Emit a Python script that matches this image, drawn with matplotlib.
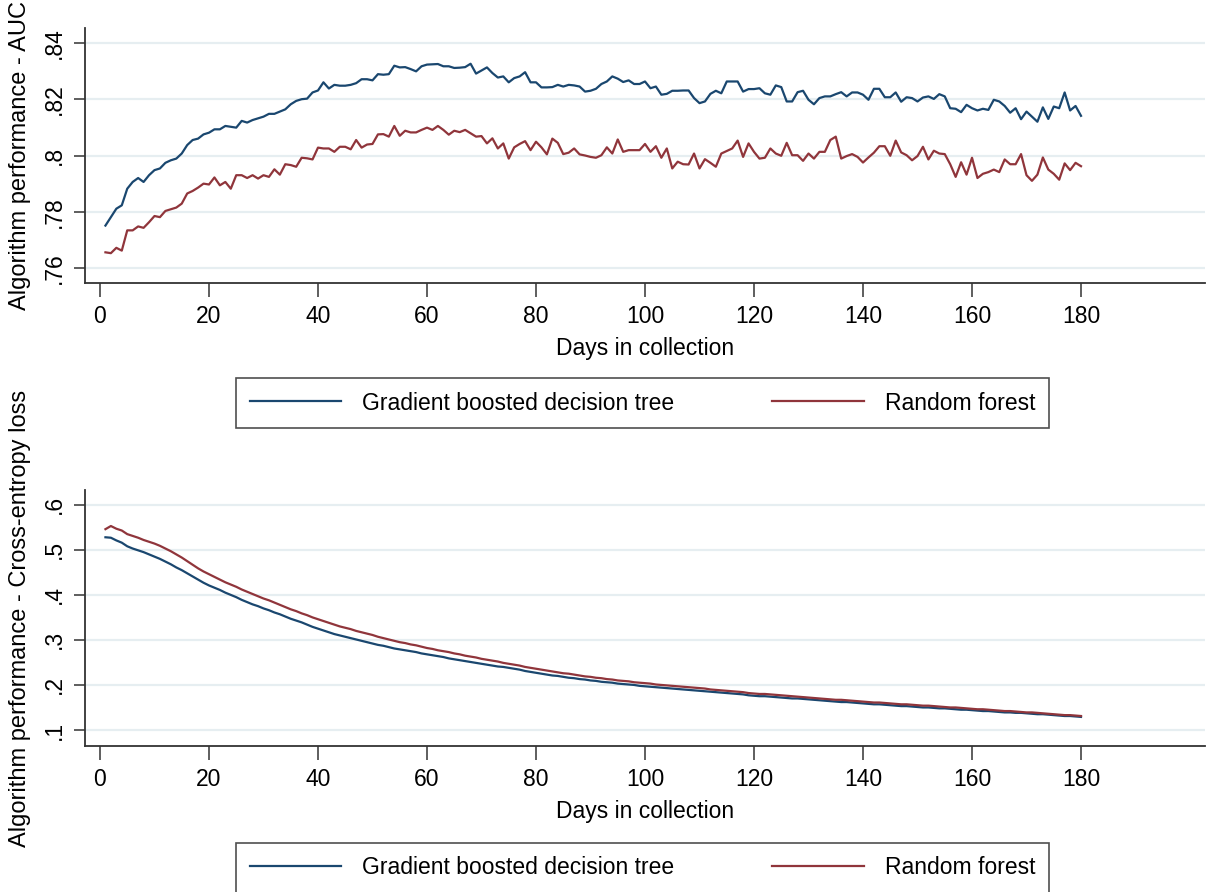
import matplotlib.pyplot as plt
import matplotlib.ticker as mticker
import numpy as np

plt.rcParams['font.family'] = ['Liberation Sans', 'DejaVu Sans']

days = list(range(1, 181))

# AUC, gradient boosted decision tree
auc_gbdt = [
    .7751, .7781, .7811, .7823, .7882, .7906, .7920, .7906, .7930, .7948,
    .7954, .7974, .7983, .7989, .8007, .8037, .8055, .8060, .8075, .8081,
    .8093, .8093, .8105, .8102, .8099, .8123, .8117, .8126, .8132, .8138,
    .8148, .8148, .8156, .8164, .8182, .8194, .8200, .8202, .8224, .8231,
    .8260, .8238, .8251, .8248, .8248, .8251, .8257, .8271, .8271, .8267,
    .8289, .8287, .8289, .8319, .8313, .8314, .8307, .8299, .8317, .8323,
    .8324, .8325, .8317, .8317, .8311, .8312, .8314, .8326, .8291, .8302,
    .8313, .8293, .8277, .8281, .8260, .8275, .8281, .8296, .8260, .8260,
    .8242, .8242, .8243, .8251, .8245, .8251, .8249, .8245, .8227, .8230,
    .8237, .8254, .8263, .8281, .8273, .8261, .8267, .8254, .8254, .8263,
    .8239, .8245, .8216, .8219, .8230, .8230, .8231, .8231, .8204, .8186,
    .8192, .8219, .8230, .8221, .8263, .8263, .8263, .8227, .8236, .8236,
    .8239, .8221, .8216, .8249, .8243, .8192, .8192, .8225, .8230, .8198,
    .8182, .8204, .8210, .8210, .8218, .8225, .8210, .8224, .8224, .8216,
    .8198, .8237, .8237, .8207, .8207, .8224, .8191, .8207, .8204, .8192,
    .8206, .8210, .8201, .8218, .8210, .8168, .8166, .8154, .8180, .8168,
    .8160, .8166, .8162, .8198, .8192, .8176, .8152, .8168, .8129, .8156,
    .8138, .8120, .8171, .8130, .8174, .8168, .8224, .8160, .8176, .8141,
]

# AUC, random forest
auc_rf = [
    .7656, .7653, .7672, .7662, .7734, .7734, .7748, .7743, .7763, .7785,
    .7781, .7803, .7809, .7815, .7829, .7865, .7874, .7886, .7900, .7897,
    .7922, .7894, .7906, .7882, .7930, .7930, .7920, .7930, .7918, .7930,
    .7924, .7951, .7932, .7969, .7966, .7960, .7992, .7990, .7986, .8028,
    .8025, .8025, .8013, .8031, .8031, .8022, .8055, .8028, .8039, .8041,
    .8075, .8076, .8067, .8105, .8070, .8088, .8082, .8082, .8091, .8099,
    .8091, .8105, .8091, .8074, .8088, .8083, .8091, .8079, .8067, .8069,
    .8043, .8061, .8025, .8043, .7989, .8029, .8041, .8051, .8019, .8049,
    .8029, .8004, .8060, .8045, .8005, .8010, .8025, .8004, .8000, .7995,
    .7992, .8001, .8029, .8007, .8057, .8013, .8019, .8019, .8019, .8041,
    .8013, .8033, .7992, .8025, .7954, .7978, .7969, .7968, .8007, .7954,
    .7987, .7974, .7960, .8007, .8016, .8025, .8053, .7995, .8043, .8013,
    .7989, .7992, .8025, .8007, .7999, .8045, .8001, .8001, .7981, .8007,
    .7989, .8013, .8013, .8055, .8067, .7989, .7998, .8005, .7995, .7975,
    .7993, .8010, .8033, .8033, .7999, .8053, .8011, .8001, .7983, .7998,
    .8031, .7986, .8017, .8007, .8005, .7969, .7924, .7976, .7932, .7992,
    .7920, .7935, .7941, .7950, .7941, .7986, .7969, .7969, .8005, .7930,
    .7910, .7932, .7993, .7950, .7935, .7914, .7972, .7948, .7974, .7962,
]

# Cross-entropy loss, gradient boosted decision tree
ce_gbdt = [
    .528, .527, .521, .516, .508, .503, .499, .495, .490, .485,
    .480, .474, .468, .461, .455, .448, .441, .434, .427, .421,
    .416, .411, .405, .400, .395, .389, .384, .379, .375, .370,
    .366, .361, .357, .352, .347, .343, .339, .334, .329, .325,
    .321, .317, .313, .310, .307, .304, .301, .298, .295, .292,
    .289, .287, .284, .281, .279, .277, .275, .273, .270, .268,
    .266, .264, .262, .259, .257, .255, .253, .251, .249, .247,
    .245, .243, .241, .240, .238, .236, .234, .231, .229, .227,
    .225, .223, .221, .220, .218, .216, .215, .213, .212, .210,
    .209, .207, .206, .205, .203, .202, .201, .200, .198, .197,
    .196, .195, .194, .193, .192, .191, .190, .189, .188, .187,
    .186, .185, .184, .183, .182, .181, .180, .179, .177, .176,
    .175, .175, .174, .173, .172, .171, .170, .170, .169, .168,
    .167, .166, .165, .164, .163, .162, .162, .161, .160, .159,
    .158, .157, .157, .156, .155, .154, .153, .153, .152, .151,
    .150, .150, .149, .148, .148, .147, .146, .145, .145, .144,
    .143, .142, .142, .141, .140, .139, .139, .138, .138, .137,
    .136, .135, .135, .134, .133, .132, .131, .131, .130, .129,
]

# Cross-entropy loss, random forest
ce_rf = [
    .546, .553, .547, .543, .535, .531, .527, .522, .518, .514,
    .509, .503, .497, .490, .483, .475, .467, .459, .452, .446,
    .440, .434, .428, .423, .418, .412, .407, .402, .397, .392,
    .388, .383, .378, .373, .368, .364, .359, .355, .350, .346,
    .342, .338, .334, .330, .327, .324, .320, .317, .314, .311,
    .307, .304, .301, .298, .295, .293, .290, .288, .285, .282,
    .280, .277, .275, .273, .270, .268, .265, .263, .261, .258,
    .256, .254, .252, .249, .247, .245, .243, .240, .238, .236,
    .234, .232, .230, .228, .226, .225, .223, .221, .219, .218,
    .216, .215, .213, .212, .210, .209, .208, .206, .205, .204,
    .203, .201, .200, .199, .198, .197, .196, .195, .194, .193,
    .192, .190, .189, .188, .187, .186, .185, .184, .182, .181,
    .180, .180, .179, .178, .177, .176, .175, .174, .173, .172,
    .171, .170, .169, .168, .167, .167, .166, .165, .164, .163,
    .162, .161, .161, .160, .159, .158, .157, .157, .156, .155,
    .154, .154, .153, .152, .151, .150, .150, .149, .148, .147,
    .146, .146, .145, .144, .143, .142, .142, .141, .140, .139,
    .139, .138, .137, .136, .135, .134, .133, .133, .132, .131,
]

series_names = ['Gradient boosted decision tree', 'Random forest']
colors = ['#1a476f', '#90353b']
auc_ticks = [.76, .78, .8, .82, .84]
ce_ticks = [.1, .2, .3, .4, .5, .6]
x_ticks = list(range(0, 181, 20))

W, H = 1208, 892
fig = plt.figure(figsize=(W / 100, H / 100), dpi=100)
fs = 16.5


def strip_zero(v, pos):
    s = ('%g' % v)
    return s[1:] if s.startswith('0.') else s


def style_axis(ax, yticks, ylim, ylabel):
    ax.set_xlim(-2.75, 202.75)
    ax.set_ylim(*ylim)
    ax.set_xticks(x_ticks)
    ax.set_yticks(yticks)
    ax.yaxis.set_major_formatter(mticker.FuncFormatter(strip_zero))
    for lab in ax.get_yticklabels():
        lab.set_rotation(90)
        lab.set_va('center')
    ax.tick_params(axis='both', labelsize=fs, direction='out', length=8,
                   width=1.1, color='#333333', pad=6)
    ax.tick_params(axis='x', length=10)
    ax.grid(axis='y', color='#e6eef1', linewidth=1.6)
    ax.set_axisbelow(True)
    for side in ['top', 'right']:
        ax.spines[side].set_visible(False)
    for side in ['left', 'bottom']:
        ax.spines[side].set_color('#333333')
        ax.spines[side].set_linewidth(1.3)
    ax.set_xlabel('Days in collection', fontsize=fs, labelpad=6)
    ax.set_ylabel(ylabel, fontsize=fs + 0.5, labelpad=8)


def add_legend(top_px, handles):
    box = (236 / W, 1 - (top_px + 50) / H, 813 / W, 50 / H)
    leg = fig.legend(handles, series_names, loc='center', bbox_to_anchor=box,
                     mode='expand', ncol=2, fontsize=fs, frameon=True,
                     fancybox=False, edgecolor='#222222', handlelength=4.0,
                     handletextpad=0.9, borderaxespad=0, borderpad=0.6)
    leg.get_frame().set_linewidth(1.2)


ax1 = fig.add_axes([85 / W, 1 - 283 / H, 1120 / W, 255 / H])
h1 = ax1.plot(days, auc_gbdt, color=colors[0], lw=1.6)[0]
h2 = ax1.plot(days, auc_rf, color=colors[1], lw=1.6)[0]
style_axis(ax1, auc_ticks, (0.7547, 0.8453), 'Algorithm performance - AUC')
add_legend(378, [h1, h2])

ax2 = fig.add_axes([85 / W, 1 - 746 / H, 1120 / W, 256 / H])
g1 = ax2.plot(days, ce_gbdt, color=colors[0], lw=1.6)[0]
g2 = ax2.plot(days, ce_rf, color=colors[1], lw=1.6)[0]
style_axis(ax2, ce_ticks, (0.0644, 0.633),
           'Algorithm performance - Cross-entropy loss')
add_legend(843, [g1, g2])

fig.savefig('out.png', dpi=100)
